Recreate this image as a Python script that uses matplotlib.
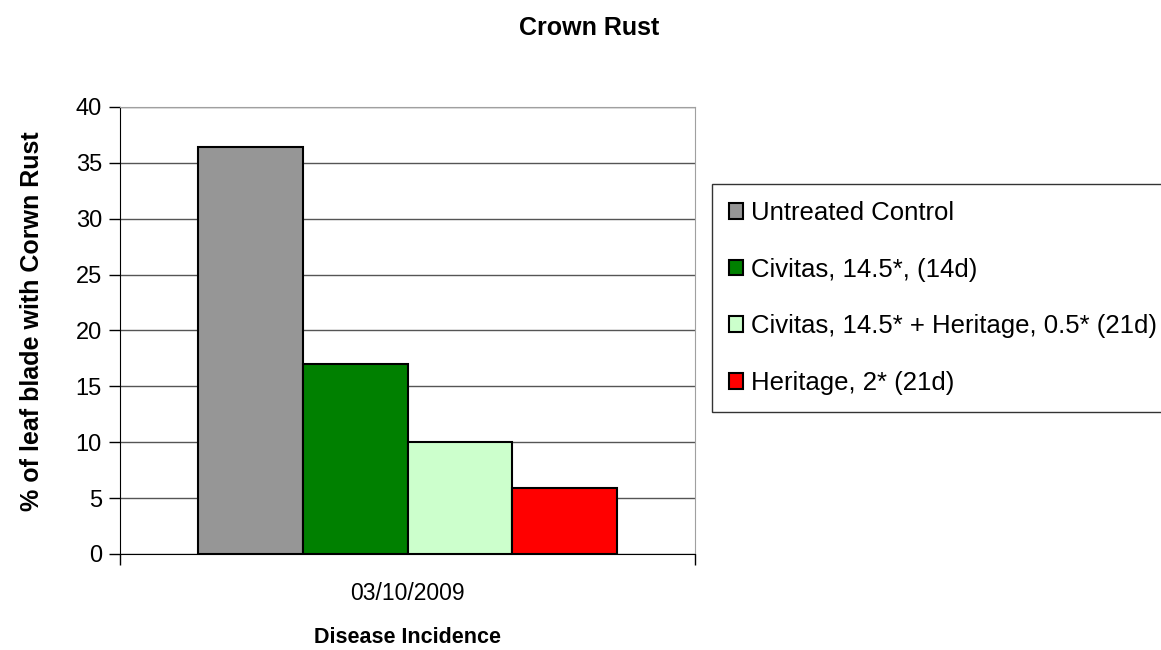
import matplotlib.pyplot as plt
import numpy as np

plt.rcParams['font.family'] = ['Liberation Sans', 'DejaVu Sans']

treatments = ["Untreated Control", "Civitas, 14.5*, (14d)",
              "Civitas, 14.5* + Heritage, 0.5* (21d)", "Heritage, 2* (21d)"]
values = [36.4, 17.0, 10.0, 5.9]
colors = ["#969696", "#008000", "#ccffcc", "#ff0000"]
date_label = "03/10/2009"

fig = plt.figure(figsize=(11.61, 6.5), dpi=100)
ax = fig.add_axes([0.1034, 0.1477, 0.4952, 0.6877])

pos = np.arange(len(values)) - 1.5
for p, v, c, t in zip(pos, values, colors, treatments):
    ax.bar(p, v, width=1.0, color=c, edgecolor="black", linewidth=1.5, label=t, zorder=3)

ax.set_xlim(-2.75, 2.75)
ax.set_ylim(0, 40)
ax.set_yticks(range(0, 41, 5))
ax.yaxis.grid(True, color="#555555", linewidth=1)
ax.set_axisbelow(True)
ax.set_xticks([-2.75, 2.75], minor=True)
ax.set_xticks([0])
ax.set_xticklabels([date_label])
ax.tick_params(axis="x", which="major", length=0, pad=20, labelsize=16.5)
ax.tick_params(axis="x", which="minor", length=8, width=1)
ax.tick_params(axis="y", length=8, width=1, labelsize=17, pad=5)

ax.spines["top"].set_color("#a0a0a0")
ax.spines["right"].set_color("#a0a0a0")
ax.spines["left"].set_color("black")
ax.spines["bottom"].set_color("black")

ax.set_xlabel("Disease Incidence", fontsize=15.5, fontweight="bold", labelpad=16)
ax.set_ylabel("% of leaf blade with Corwn Rust", fontsize=18, fontweight="bold")
ax.yaxis.set_label_coords(-0.133, 0.52)
fig.suptitle("Crown Rust", fontsize=18, fontweight="bold", x=0.507, y=0.975)

leg = fig.legend(loc="upper left", bbox_to_anchor=(712 / 1161, 1 - 184 / 650), fontsize=18.5,
                 frameon=True, fancybox=False, edgecolor="black",
                 handlelength=0.55, handleheight=0.55, handletextpad=0.3,
                 labelspacing=1.27, borderpad=0.66, borderaxespad=0)
leg.get_frame().set_linewidth(1)

fig.savefig("out.png", dpi=100)
